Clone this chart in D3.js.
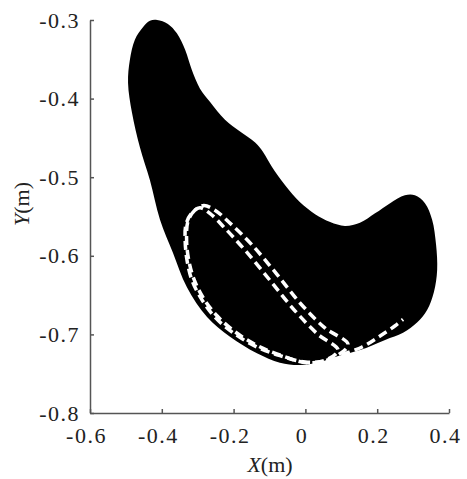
<!DOCTYPE html>
<html>
<head>
<meta charset="utf-8">
<title>Workspace</title>
<script src="https://cdn.jsdelivr.net/npm/d3@7"></script>
<style>
  body { margin: 0; background: #fff; }
  text { font-family: "Times New Roman", Times, "Liberation Serif", serif; }
  .tick text { font-size: 22px; fill: #222; letter-spacing: 1.5px; }
  .domain, .tick line { stroke: #555; stroke-width: 1.5; }
</style>
</head>
<body>
<div id="chart"></div>
<script>
// ticks
var xTicks = [-0.6, -0.4, -0.2, 0, 0.2, 0.4];
var xTickLabels = ["-0.6", "-0.4", "-0.2", "0", "0.2", "0.4"];
var yTicks = [-0.3, -0.4, -0.5, -0.6, -0.7, -0.8];
var yTickLabels = ["-0.3", "-0.4", "-0.5", "-0.6", "-0.7", "-0.8"];

// outer boundary of the black region [X, Y]
var workspace = [
  [-0.413, -0.300], [-0.383, -0.305], [-0.358, -0.317], [-0.335, -0.338], [-0.316, -0.364],
  [-0.294, -0.387], [-0.266, -0.404], [-0.224, -0.427], [-0.182, -0.442], [-0.140, -0.456],
  [-0.118, -0.468], [-0.093, -0.487], [-0.057, -0.510], [-0.015, -0.532], [0.027, -0.547],
  [0.069, -0.557], [0.110, -0.562], [0.152, -0.558], [0.194, -0.546], [0.236, -0.533],
  [0.277, -0.523], [0.305, -0.523], [0.333, -0.533], [0.353, -0.554], [0.364, -0.586],
  [0.367, -0.618], [0.358, -0.646], [0.339, -0.669], [0.311, -0.685], [0.272, -0.698],
  [0.222, -0.707], [0.152, -0.720], [0.096, -0.727], [0.041, -0.735], [-0.015, -0.739],
  [-0.071, -0.736], [-0.135, -0.724], [-0.210, -0.703], [-0.274, -0.678], [-0.330, -0.640],
  [-0.369, -0.596], [-0.405, -0.554], [-0.433, -0.504], [-0.461, -0.462], [-0.483, -0.418],
  [-0.494, -0.380], [-0.489, -0.351], [-0.475, -0.325], [-0.452, -0.309], [-0.433, -0.301]
];

// dashed loops
var loopA = [
  [-0.294, -0.539], [-0.319, -0.547], [-0.333, -0.561], [-0.335, -0.580], [-0.330, -0.605],
  [-0.316, -0.631], [-0.288, -0.656], [-0.252, -0.678], [-0.204, -0.697], [-0.140, -0.715],
  [-0.071, -0.727], [-0.001, -0.735], [0.055, -0.733], [0.091, -0.720], [0.035, -0.700],
  [-0.029, -0.670], [-0.099, -0.631], [-0.168, -0.593], [-0.224, -0.565], [-0.266, -0.546]
];
var loopB = [
  [-0.283, -0.536], [-0.308, -0.542], [-0.327, -0.556], [-0.331, -0.578], [-0.326, -0.603],
  [-0.311, -0.629], [-0.284, -0.654], [-0.247, -0.676], [-0.198, -0.696], [-0.135, -0.714],
  [-0.066, -0.727], [0.004, -0.736], [0.070, -0.731], [0.119, -0.713], [0.055, -0.692],
  [-0.015, -0.660], [-0.082, -0.622], [-0.149, -0.586], [-0.204, -0.561], [-0.252, -0.542]
];
var edgeDash = [
  [0.100, -0.726], [0.158, -0.716], [0.208, -0.702], [0.250, -0.689], [0.272, -0.681]
];

var svg = d3.select("#chart").append("svg")
    .attr("width", 467)
    .attr("height", 479);

var x = d3.scaleLinear().domain([-0.6, 0.4]).range([90, 449]);
var y = d3.scaleLinear().domain([-0.8, -0.3]).range([413, 20]);

var closedLine = d3.line()
    .x(function(d) { return x(d[0]); })
    .y(function(d) { return y(d[1]); })
    .curve(d3.curveCatmullRomClosed);
var openLine = d3.line()
    .x(function(d) { return x(d[0]); })
    .y(function(d) { return y(d[1]); })
    .curve(d3.curveCatmullRom);

svg.append("path")
    .attr("d", closedLine(workspace))
    .attr("fill", "#000");

[loopA, loopB].forEach(function(loop) {
  svg.append("path")
      .attr("d", closedLine(loop))
      .attr("fill", "none")
      .attr("stroke", "#fff")
      .attr("stroke-width", 3.5)
      .attr("stroke-dasharray", "9,5");
});
svg.append("path")
    .attr("d", openLine(edgeDash))
    .attr("fill", "none")
    .attr("stroke", "#fff")
    .attr("stroke-width", 3.5)
    .attr("stroke-dasharray", "9,5");

// axes
var gx = svg.append("g")
    .attr("transform", "translate(0,413)")
    .call(d3.axisBottom(x).tickValues(xTicks)
      .tickFormat(function(d, i) { return xTickLabels[i]; })
      .tickSize(-4).tickSizeOuter(0).tickPadding(14));
gx.attr("font-family", null);
gx.selectAll("text").attr("dx", "-4");

var gy = svg.append("g")
    .attr("transform", "translate(90,0)")
    .call(d3.axisLeft(y).tickValues(yTicks)
      .tickFormat(function(d, i) { return yTickLabels[i]; })
      .tickSize(-4).tickSizeOuter(0).tickPadding(10));
gy.attr("font-family", null);

// axis titles
var xt = svg.append("text")
    .attr("x", 270).attr("y", 472)
    .attr("text-anchor", "middle")
    .style("font-size", "22px")
    .attr("fill", "#222");
xt.append("tspan").style("font-style", "italic").text("X");
xt.append("tspan").text("(m)");

var yt = svg.append("text")
    .attr("transform", "translate(29,204) rotate(-90)")
    .attr("text-anchor", "middle")
    .style("font-size", "22px")
    .attr("fill", "#222");
yt.append("tspan").style("font-style", "italic").text("Y");
yt.append("tspan").text("(m)");
</script>
</body>
</html>
